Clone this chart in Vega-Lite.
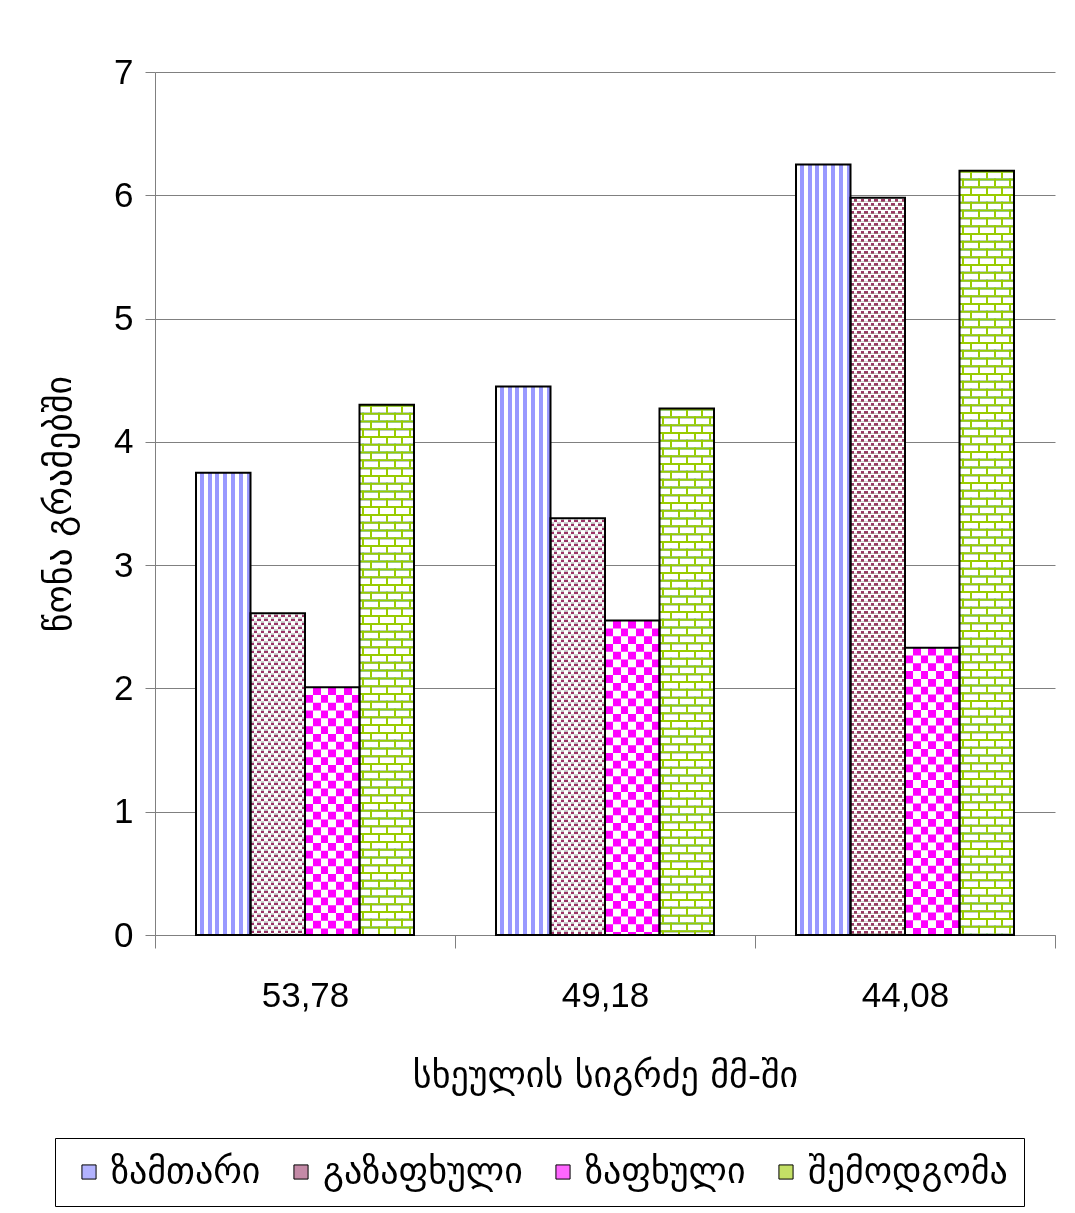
{
  "$schema": "https://vega.github.io/schema/vega-lite/v6.json",
  "width": 900,
  "height": 863,
  "autosize": {"type": "none"},
  "padding": {"left": 155, "top": 72, "right": 20, "bottom": 278},
  "background": "white",
  "config": {"view": {"stroke": null}, "font": "Liberation Sans"},
  "data": {"values": [
    {"length": "53,78", "season": "ზამთარი", "weight": 3.75},
    {"length": "53,78", "season": "გაზაფხული", "weight": 2.61},
    {"length": "53,78", "season": "ზაფხული", "weight": 2.01},
    {"length": "53,78", "season": "შემოდგომა", "weight": 4.30},
    {"length": "49,18", "season": "ზამთარი", "weight": 4.45},
    {"length": "49,18", "season": "გაზაფხული", "weight": 3.38},
    {"length": "49,18", "season": "ზაფხული", "weight": 2.55},
    {"length": "49,18", "season": "შემოდგომა", "weight": 4.27},
    {"length": "44,08", "season": "ზამთარი", "weight": 6.25},
    {"length": "44,08", "season": "გაზაფხული", "weight": 5.98},
    {"length": "44,08", "season": "ზაფხული", "weight": 2.33},
    {"length": "44,08", "season": "შემოდგომა", "weight": 6.20}
  ]},
  "encoding": {
    "x": {"field": "length", "type": "nominal", "sort": ["53,78", "49,18", "44,08"],
      "scale": {"type": "band", "paddingInner": 0, "paddingOuter": 0},
      "title": "სხეულის სიგრძე მმ-ში",
      "axis": {"tickBand": "extent", "tickSize": 13, "tickColor": "#808080", "domainColor": "#808080", "labelFontSize": 35, "labelPadding": 30, "labelColor": "black", "labelAngle": 0, "titleFont": "DejaVu Sans", "titleFontSize": 36, "titleFontWeight": "normal", "titleColor": "black", "titlePadding": 45}},
    "xOffset": {"field": "season", "type": "nominal", "sort": ["ზამთარი", "გაზაფხული", "ზაფხული", "შემოდგომა"],
      "scale": {"type": "band", "paddingInner": 0, "paddingOuter": 0.7523}},
    "y": {"field": "weight", "type": "quantitative", "scale": {"domain": [0, 7], "nice": false},
      "title": "წონა გრამებში",
      "axis": {"values": [0, 1, 2, 3, 4, 5, 6, 7], "grid": true, "gridColor": "#808080", "tickSize": 10, "tickColor": "#808080", "domainColor": "#808080", "labelFontSize": 35, "labelPadding": 12, "labelColor": "black", "titleFont": "DejaVu Sans", "titleFontSize": 36, "titleFontWeight": "normal", "titleColor": "black", "titlePadding": 35}}
  },
  "layer": [
    {"transform": [{"filter": "datum.season === 'ზამთარი'"}],
     "mark": {"type": "bar", "fill": {"gradient": "linear", "x1": 0, "y1": 0, "x2": 1, "y2": 0, "stops": [
       {"offset": 0, "color": "white"}, {"offset": 0.0714, "color": "white"}, {"offset": 0.0714, "color": "#9999ff"}, {"offset": 0.1429, "color": "#9999ff"},
       {"offset": 0.1429, "color": "white"}, {"offset": 0.2143, "color": "white"}, {"offset": 0.2143, "color": "#9999ff"}, {"offset": 0.2857, "color": "#9999ff"},
       {"offset": 0.2857, "color": "white"}, {"offset": 0.3571, "color": "white"}, {"offset": 0.3571, "color": "#9999ff"}, {"offset": 0.4286, "color": "#9999ff"},
       {"offset": 0.4286, "color": "white"}, {"offset": 0.5, "color": "white"}, {"offset": 0.5, "color": "#9999ff"}, {"offset": 0.5714, "color": "#9999ff"},
       {"offset": 0.5714, "color": "white"}, {"offset": 0.6429, "color": "white"}, {"offset": 0.6429, "color": "#9999ff"}, {"offset": 0.7143, "color": "#9999ff"},
       {"offset": 0.7143, "color": "white"}, {"offset": 0.7857, "color": "white"}, {"offset": 0.7857, "color": "#9999ff"}, {"offset": 0.8571, "color": "#9999ff"},
       {"offset": 0.8571, "color": "white"}, {"offset": 0.9286, "color": "white"}, {"offset": 0.9286, "color": "#9999ff"}, {"offset": 1, "color": "#9999ff"}]}}},
    {"transform": [{"filter": "datum.season === 'გაზაფხული'"}],
     "mark": {"type": "bar", "fill": {"gradient": "linear", "x1": 0, "y1": 0, "x2": 1, "y2": 0, "stops": [
       {"offset": 0, "color": "black"}, {"offset": 0.0625, "color": "black"}, {"offset": 0.0625, "color": "white"}, {"offset": 0.125, "color": "white"},
       {"offset": 0.125, "color": "black"}, {"offset": 0.1875, "color": "black"}, {"offset": 0.1875, "color": "white"}, {"offset": 0.25, "color": "white"},
       {"offset": 0.25, "color": "black"}, {"offset": 0.3125, "color": "black"}, {"offset": 0.3125, "color": "white"}, {"offset": 0.375, "color": "white"},
       {"offset": 0.375, "color": "black"}, {"offset": 0.4375, "color": "black"}, {"offset": 0.4375, "color": "white"}, {"offset": 0.5, "color": "white"},
       {"offset": 0.5, "color": "black"}, {"offset": 0.5625, "color": "black"}, {"offset": 0.5625, "color": "white"}, {"offset": 0.625, "color": "white"},
       {"offset": 0.625, "color": "black"}, {"offset": 0.6875, "color": "black"}, {"offset": 0.6875, "color": "white"}, {"offset": 0.75, "color": "white"},
       {"offset": 0.75, "color": "black"}, {"offset": 0.8125, "color": "black"}, {"offset": 0.8125, "color": "white"}, {"offset": 0.875, "color": "white"},
       {"offset": 0.875, "color": "black"}, {"offset": 0.9375, "color": "black"}, {"offset": 0.9375, "color": "white"}, {"offset": 1, "color": "white"}]}}},
    {"transform": [{"filter": "datum.season === 'გაზაფხული'"}],
     "mark": {"type": "rule", "stroke": "white", "strokeWidth": 54.5, "strokeDash": [4, 4], "blend": "difference"},
     "encoding": {"y2": {"datum": 0}}},
    {"transform": [{"filter": "datum.season === 'გაზაფხული'"}],
     "mark": {"type": "rule", "stroke": "white", "strokeWidth": 54.5, "strokeDash": [1.5, 2.5]},
     "encoding": {"y2": {"datum": 0}}},
    {"transform": [{"filter": "datum.season === 'გაზაფხული'"}],
     "mark": {"type": "bar", "fill": "#993366", "blend": "lighten"}},
    {"transform": [{"filter": "datum.season === 'ზაფხული'"}],
     "mark": {"type": "bar", "fill": {"gradient": "linear", "x1": 0, "y1": 0, "x2": 1, "y2": 0, "stops": [
       {"offset": 0, "color": "#ff00ff"}, {"offset": 0.1429, "color": "#ff00ff"}, {"offset": 0.1429, "color": "white"}, {"offset": 0.2857, "color": "white"},
       {"offset": 0.2857, "color": "#ff00ff"}, {"offset": 0.4286, "color": "#ff00ff"}, {"offset": 0.4286, "color": "white"}, {"offset": 0.5714, "color": "white"},
       {"offset": 0.5714, "color": "#ff00ff"}, {"offset": 0.7143, "color": "#ff00ff"}, {"offset": 0.7143, "color": "white"}, {"offset": 0.8571, "color": "white"},
       {"offset": 0.8571, "color": "#ff00ff"}, {"offset": 1, "color": "#ff00ff"}]}}},
    {"transform": [{"filter": "datum.season === 'ზაფხული'"}],
     "mark": {"type": "rule", "stroke": "#00ff00", "strokeWidth": 54.5, "strokeDash": [7.786, 7.786], "blend": "difference"},
     "encoding": {"y2": {"datum": 0}}},
    {"transform": [{"filter": "datum.season === 'შემოდგომა'"}],
     "mark": {"type": "bar", "fill": {"gradient": "linear", "x1": 0, "y1": 0, "x2": 1, "y2": 0, "stops": [
       {"offset": 0, "color": "black"}, {"offset": 0.1429, "color": "black"}, {"offset": 0.1429, "color": "white"}, {"offset": 0.2857, "color": "white"},
       {"offset": 0.2857, "color": "black"}, {"offset": 0.4286, "color": "black"}, {"offset": 0.4286, "color": "white"}, {"offset": 0.5714, "color": "white"},
       {"offset": 0.5714, "color": "black"}, {"offset": 0.7143, "color": "black"}, {"offset": 0.7143, "color": "white"}, {"offset": 0.8571, "color": "white"},
       {"offset": 0.8571, "color": "black"}, {"offset": 1, "color": "black"}]}}},
    {"transform": [{"filter": "datum.season === 'შემოდგომა'"}],
     "mark": {"type": "rule", "stroke": "white", "strokeWidth": 54.5, "strokeDash": [7.786, 7.786], "blend": "difference"},
     "encoding": {"y2": {"datum": 0}}},
    {"transform": [{"filter": "datum.season === 'შემოდგომა'"}],
     "mark": {"type": "bar", "fill": {"gradient": "linear", "x1": 0, "y1": 0, "x2": 1, "y2": 0, "stops": [
       {"offset": 0, "color": "white"}, {"offset": 0.053, "color": "white"}, {"offset": 0.053, "color": "rgba(255,255,255,0)"}, {"offset": 0.0898, "color": "rgba(255,255,255,0)"},
       {"offset": 0.0898, "color": "white"}, {"offset": 0.1959, "color": "white"}, {"offset": 0.1959, "color": "rgba(255,255,255,0)"}, {"offset": 0.2327, "color": "rgba(255,255,255,0)"},
       {"offset": 0.2327, "color": "white"}, {"offset": 0.3387, "color": "white"}, {"offset": 0.3387, "color": "rgba(255,255,255,0)"}, {"offset": 0.3755, "color": "rgba(255,255,255,0)"},
       {"offset": 0.3755, "color": "white"}, {"offset": 0.4816, "color": "white"}, {"offset": 0.4816, "color": "rgba(255,255,255,0)"}, {"offset": 0.5184, "color": "rgba(255,255,255,0)"},
       {"offset": 0.5184, "color": "white"}, {"offset": 0.6245, "color": "white"}, {"offset": 0.6245, "color": "rgba(255,255,255,0)"}, {"offset": 0.6613, "color": "rgba(255,255,255,0)"},
       {"offset": 0.6613, "color": "white"}, {"offset": 0.7673, "color": "white"}, {"offset": 0.7673, "color": "rgba(255,255,255,0)"}, {"offset": 0.8041, "color": "rgba(255,255,255,0)"},
       {"offset": 0.8041, "color": "white"}, {"offset": 0.9102, "color": "white"}, {"offset": 0.9102, "color": "rgba(255,255,255,0)"}, {"offset": 0.947, "color": "rgba(255,255,255,0)"},
       {"offset": 0.947, "color": "white"}, {"offset": 1, "color": "white"}]}}},
    {"transform": [{"filter": "datum.season === 'შემოდგომა'"}],
     "mark": {"type": "rule", "stroke": "black", "strokeWidth": 54.5, "strokeDash": [2, 5.786]},
     "encoding": {"y2": {"datum": 0}}},
    {"transform": [{"filter": "datum.season === 'შემოდგომა'"}],
     "mark": {"type": "bar", "fill": "#99cc00", "blend": "lighten"}},
    {"mark": {"type": "bar", "fillOpacity": 0, "stroke": "black", "strokeWidth": 2},
     "encoding": {"color": {"field": "season", "type": "nominal",
       "scale": {"domain": ["ზამთარი", "გაზაფხული", "ზაფხული", "შემოდგომა"], "range": ["#b3b3ff", "#c48aa7", "#ff66ff", "#c4e066"]},
       "legend": {"title": null, "orient": "none", "legendX": -100, "legendY": 1066, "direction": "horizontal", "columns": 4,
         "strokeColor": "black", "fillColor": "white", "padding": 16, "symbolType": "square", "symbolSize": 200,
         "labelFont": "DejaVu Sans", "labelFontSize": 36, "labelColor": "black", "labelOffset": 4, "columnPadding": 22, "labelLimit": 400,
         "symbolStrokeColor": "black", "symbolStrokeWidth": 1,
         "encode": {"symbols": {"update": {"fillOpacity": {"value": 1}, "stroke": {"value": "black"}, "strokeWidth": {"value": 1}}}}}}}}
  ]
}
